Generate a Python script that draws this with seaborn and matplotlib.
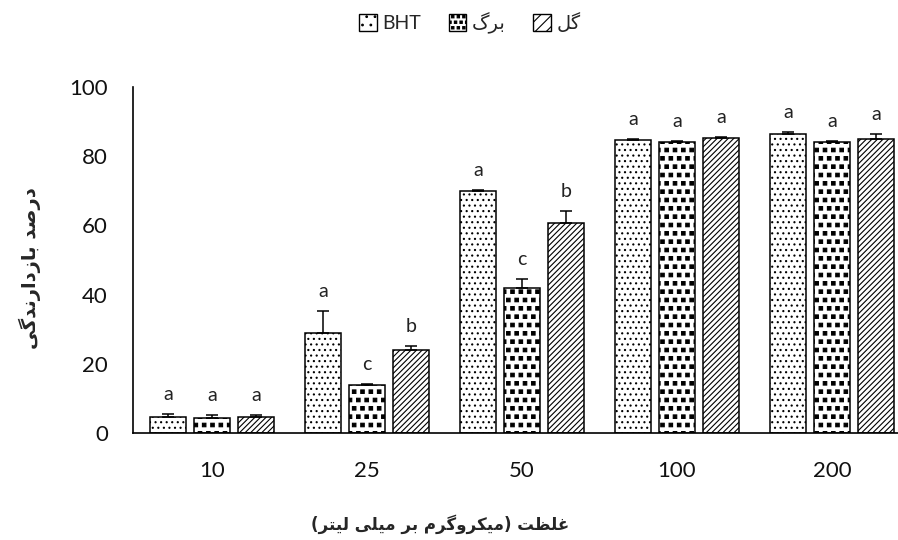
import numpy as np
import pandas as pd
import matplotlib
matplotlib.use("Agg")
import matplotlib.pyplot as plt
import matplotlib.hatch as mhatch
from matplotlib.path import Path
from matplotlib.patches import Patch
import seaborn as sns

# ---------------- data ----------------
categories = ['10', '25', '50', '100', '200']
series = ['BHT', 'برگ', 'گل']
bht = [4.5, 29.0, 69.9, 84.7, 86.4]
barg = [4.3, 13.9, 41.9, 84.0, 84.2]
gol = [4.6, 24.0, 60.7, 85.3, 85.1]
err_bht = [0.9, 6.3, 0.3, 0.3, 0.5]
err_barg = [0.9, 0.3, 2.6, 0.3, 0.3]
err_gol = [0.5, 1.1, 3.5, 0.3, 1.2]
let_bht = ['a', 'a', 'a', 'a', 'a']
let_barg = ['a', 'c', 'c', 'a', 'a']
let_gol = ['a', 'b', 'b', 'a', 'a']
y_label = 'درصد بازدارندگی'
x_label = 'غلظت (میکروگرم بر میلی لیتر)'

# ---------------- simple Persian shaping ----------------
FORMS = {
    'ا': ('\uFE8D', '\uFE8E', None, None),
    'ب': ('\uFE8F', '\uFE90', '\uFE91', '\uFE92'),
    'ت': ('\uFE95', '\uFE96', '\uFE97', '\uFE98'),
    'د': ('\uFEA9', '\uFEAA', None, None),
    'ر': ('\uFEAD', '\uFEAE', None, None),
    'ز': ('\uFEAF', '\uFEB0', None, None),
    'ص': ('\uFEB9', '\uFEBA', '\uFEBB', '\uFEBC'),
    'ظ': ('\uFEC5', '\uFEC6', '\uFEC7', '\uFEC8'),
    'غ': ('\uFECD', '\uFECE', '\uFECF', '\uFED0'),
    'ل': ('\uFEDD', '\uFEDE', '\uFEDF', '\uFEE0'),
    'م': ('\uFEE1', '\uFEE2', '\uFEE3', '\uFEE4'),
    'ن': ('\uFEE5', '\uFEE6', '\uFEE7', '\uFEE8'),
    'و': ('\uFEED', '\uFEEE', None, None),
    'ی': ('\uFBFC', '\uFBFD', '\uFBFE', '\uFBFF'),
    'ک': ('\uFB8E', '\uFB8F', '\uFB90', '\uFB91'),
    'گ': ('\uFB92', '\uFB93', '\uFB94', '\uFB95'),
}


def shape(s):
    if all(ord(c) < 0x0600 for c in s):
        return s
    out = []
    for i, c in enumerate(s):
        if c not in FORMS:
            out.append(c)
            continue
        iso, fin, ini, med = FORMS[c]
        prev = s[i - 1] if i > 0 else ''
        nxt = s[i + 1] if i + 1 < len(s) else ''
        jp = prev in FORMS and FORMS[prev][2] is not None
        jn = ini is not None and nxt in FORMS
        if jp and jn:
            out.append(med)
        elif jp:
            out.append(fin)
        elif jn:
            out.append(ini)
        else:
            out.append(iso)
    mirror = {'(': ')', ')': '('}
    return ''.join(mirror.get(c, c) for c in reversed(out))


# ---------------- custom square-dot hatch (replaces '*') ----------------
class SquareDots(mhatch.Shapes):
    size = 0.21
    filled = True

    def __init__(self, hatch, density):
        self.num_rows = hatch.count('*') * density
        self.shape_vertices = np.array([[-1, -1], [1, -1], [1, 1], [-1, 1], [-1, -1]], float)
        self.shape_codes = np.array([Path.MOVETO, Path.LINETO, Path.LINETO,
                                     Path.LINETO, Path.CLOSEPOLY], dtype=Path.code_type)
        super().__init__(hatch, density)


mhatch._hatch_types = [SquareDots if t is mhatch.Stars else t for t in mhatch._hatch_types]

# ---------------- style ----------------
sns.set_theme(style='white')
plt.rcParams['font.family'] = ['Lato', 'DejaVu Sans']
plt.rcParams['hatch.color'] = 'black'
plt.rcParams['hatch.linewidth'] = 0.8

df = pd.DataFrame({
    'conc': categories * 3,
    'series': [series[0]] * 5 + [series[1]] * 5 + [series[2]] * 5,
    'value': bht + barg + gol,
})

fig = plt.figure(figsize=(8.98, 5.40), dpi=100)
ax = fig.add_axes([133 / 898, 1 - 433 / 540, 1 - 133 / 898, (433 - 87) / 540])

sns.barplot(data=df, x='conc', y='value', hue='series', order=categories,
            hue_order=series, palette=['white'] * 3, saturation=1,
            width=0.85, gap=0.18, errorbar=None, legend=False,
            edgecolor='black', linewidth=1.1, ax=ax)

hatches = ['...', '**', '//////']
errs = [err_bht, err_barg, err_gol]
lets = [let_bht, let_barg, let_gol]
for cont, h, e, L in zip(ax.containers, hatches, errs, lets):
    xs, ys = [], []
    for p in cont.patches:
        p.set_hatch(h)
        xs.append(p.get_x() + p.get_width() / 2)
        ys.append(p.get_height())
    xs = np.array(xs); ys = np.array(ys); e = np.array(e)
    ax.errorbar(xs, ys, yerr=[np.zeros_like(e), e], fmt='none', ecolor='black',
                elinewidth=1.1, capsize=4.3, capthick=1.1, zorder=3)
    for x, y, ee, t in zip(xs, ys, e, L):
        ax.annotate(t, (x, y + ee), xytext=(0, 14), textcoords='offset points',
                    ha='center', va='center', fontsize=14, color='#222222')

ax.set_ylim(0, 100)
ax.set_xlim(-0.51, 4.426)
ax.set_yticks([0, 20, 40, 60, 80, 100])
ax.tick_params(axis='both', length=0, labelsize=16, colors='#111111')
ax.tick_params(axis='y', pad=18)
ax.tick_params(axis='x', pad=20)
ax.set_xlabel('')
ax.set_ylabel('')
for s in ['top', 'right']:
    ax.spines[s].set_visible(False)
for s in ['left', 'bottom']:
    ax.spines[s].set_color('black')
    ax.spines[s].set_linewidth(1.2)

fig.text(30 / 898, 1 - 268 / 540, shape(y_label), rotation=90, ha='center', va='center',
         fontsize=14, fontweight='bold', family=['DejaVu Sans'])
fig.text(440 / 898, 1 - 524 / 540, shape(x_label), ha='center', va='center',
         fontsize=12, fontweight='bold', family=['DejaVu Sans'])

handles = [Patch(facecolor='white', edgecolor='black', hatch=h, linewidth=1.0)
           for h in ['..', '***', '///']]
fig.legend(handles, [shape(s) for s in series], loc='center', ncol=3,
           bbox_to_anchor=(470 / 898, 1 - 23 / 540), frameon=False, fontsize=14,
           handlelength=0.9, handleheight=0.9, handletextpad=0.3, columnspacing=1.4)

fig.savefig('out.png', dpi=100, facecolor='white')
